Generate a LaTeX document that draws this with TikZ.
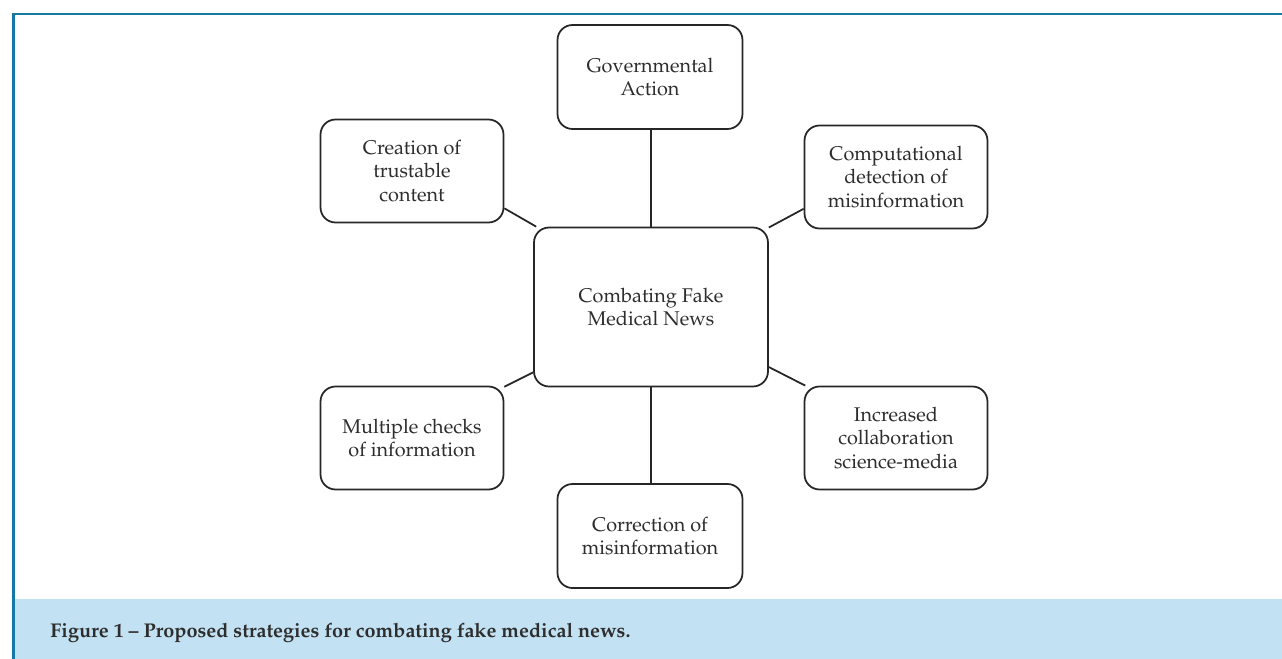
\documentclass[tikz,border=0pt]{standalone}
\usepackage[T1]{fontenc}
\usepackage{mathpazo}
\usepackage{tikz}

\definecolor{frameblue}{RGB}{22,120,165}
\definecolor{capblue}{RGB}{194,225,242}
\definecolor{txtgray}{RGB}{45,45,45}

\begin{document}
\begin{tikzpicture}[
		x=0.02cm, y=-0.02cm,
		box/.style={
			shape=rectangle,
			rounded corners=0.3cm,
			draw=black!85,
			line width=1pt,
			fill=white,
			align=center,
			text=txtgray,
			inner sep=2pt,
			minimum width=3.66cm,
			minimum height=2.06cm,
			font=\fontsize{11.3}{13.2}\selectfont},
		hub/.style={box,
			minimum width=4.68cm,
			minimum height=3.18cm},
		link/.style={draw=black!85, line width=1pt}
		]
	\useasboundingbox (0,0) rectangle (1282,659);
	
	% frame and caption band
	\fill[capblue] (15,599) rectangle (1282,659);
	\draw[frameblue, line width=1.7pt] (13.5,659) -- (13.5,14) -- (1282,14);
	\node[anchor=base west, inner sep=0pt, text=txtgray, font=\fontsize{11.3}{13}\selectfont\bfseries] (caption) at (50,637)
		{Figure 1 -- Proposed strategies for combating fake medical news.};
	
	\node[hub] (news) at (651,307) {Combating Fake\\Medical News};
	
	\node[box, minimum width=3.7cm, minimum height=2.08cm] (gov) at (650,77) {Governmental\\Action};
	\node[box] (create) at (412,171) {Creation of\\trustable\\content};
	\node[box] (detect) at (896,177) {Computational\\detection of\\misinformation};
	\node[box] (checks) at (412,438) {Multiple checks\\of information};
	\node[box] (collab) at (896,438) {Increased\\collaboration\\science-media};
	\node[box, minimum width=3.7cm, minimum height=2.08cm] (correct) at (650,536) {Correction of\\misinformation};
	
	\draw[link] (gov.south -| news.north) -- (news.north);
	\draw[link] (news.south) -- (news.south |- correct.north);
	\draw[link] (create.-22) -- (news.145);
	\draw[link] (detect.-161) -- (news.34);
	\draw[link] (checks.29) -- (news.-151);
	\draw[link] (collab.150) -- (news.-27);
\end{tikzpicture}
\end{document}
